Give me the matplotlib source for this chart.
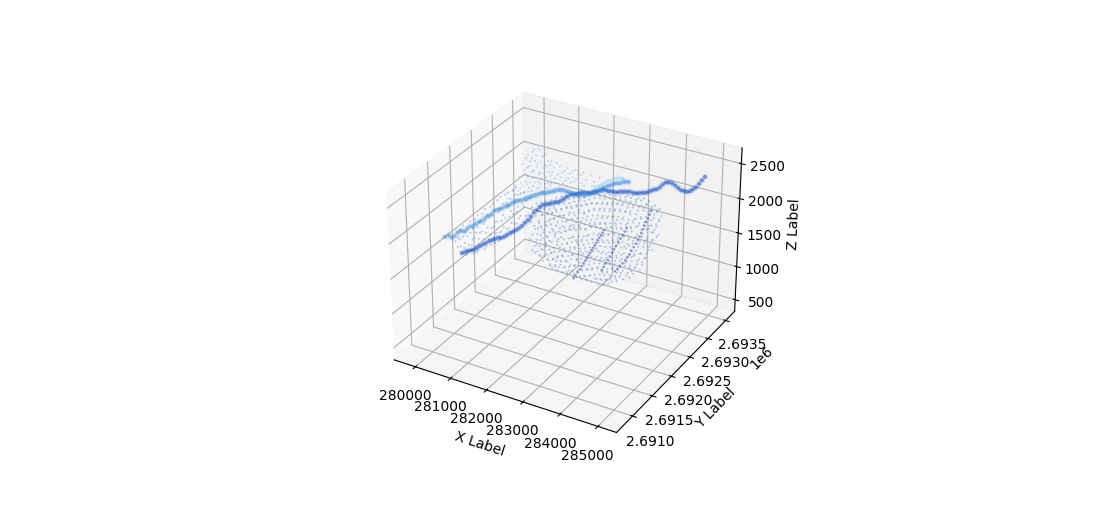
import matplotlib
matplotlib.use("Agg")
import matplotlib.pyplot as plt

x_ticks = [280000, 281000, 282000, 283000, 284000, 285000]
y_ticks = [2691000, 2691500, 2692000, 2692500, 2693000, 2693500]
z_ticks = [500, 1000, 1500, 2000, 2500]

# upper road
road_a_x = [279940, 280060, 280140, 280230, 280320, 280400, 280490, 280570, 280660, 280750,
            280580, 280670, 280750, 280840, 280920, 281010, 281090, 281180, 281260, 281340,
            281190, 281270, 281350, 281440, 281520, 281600, 281690, 281770, 281850, 281930,
            281780, 281870, 281950, 282030, 282110, 282190, 282280, 282360, 282440, 282520,
            282380, 282460, 282540, 282620, 282700, 282780, 282870, 282950, 283030, 283110,
            282970, 283050, 283130, 283210, 283290, 283370, 283450, 283530, 283610, 283690,
            283560, 283640]
road_a_y = [2691400] * 10 + [2691600] * 10 + [2691800] * 10 + [2692000] * 10 + [2692200] * 10 + [2692400] * 10 + [2692600] * 2
road_a_z = [1790, 1830, 1810, 1850, 1910, 1950, 1950, 1995, 2045, 2065,
            1975, 2015, 2045, 2095, 2135, 2170, 2230, 2260, 2280, 2310,
            2220, 2240, 2280, 2310, 2340, 2360, 2380, 2415, 2435, 2465,
            2360, 2390, 2415, 2425, 2445, 2465, 2485, 2515, 2525, 2535,
            2405, 2405, 2405, 2395, 2395, 2405, 2415, 2445, 2465, 2495,
            2390, 2405, 2445, 2485, 2515, 2535, 2565, 2585, 2595, 2625,
            2515, 2525]

# lower road
road_b_x = [280160, 280250, 280330, 280420, 280510, 280590, 280680, 280770, 280850, 280940,
            280780, 280860, 280950, 281030, 281120, 281200, 281290, 281370, 281450, 281540,
            281390, 281470, 281560, 281640, 281720, 281810, 281890, 281970, 282060, 282140,
            281990, 282080, 282160, 282240, 282320, 282400, 282490, 282570, 282650, 282730,
            282590, 282670, 282760, 282840, 282920, 283000, 283080, 283160, 283240, 283320,
            283190, 283270, 283350, 283430, 283510, 283590, 283670, 283760, 283840, 283910,
            283790, 283870, 283950, 284030, 284110, 284190, 284270, 284340, 284420, 284500,
            284390, 284470, 284550, 284630, 284710, 284790, 284870, 284940, 285020, 285100,
            284980, 285060]
road_b_y = [2691600] * 10 + [2691800] * 10 + [2692000] * 10 + [2692200] * 10 + [2692400] * 10 + [2692600] * 10 + [2692800] * 10 + [2693000] * 10 + [2693200] * 2
road_b_z = [1490, 1520, 1550, 1570, 1590, 1630, 1670, 1710, 1740, 1780,
            1670, 1700, 1730, 1740, 1770, 1810, 1850, 1880, 1915, 1955,
            1870, 1925, 1975, 2035, 2105, 2155, 2210, 2250, 2270, 2290,
            2180, 2210, 2220, 2250, 2290, 2330, 2370, 2390, 2405, 2425,
            2320, 2330, 2340, 2350, 2380, 2395, 2425, 2445, 2445, 2445,
            2330, 2330, 2340, 2360, 2370, 2380, 2390, 2390, 2395, 2405,
            2300, 2310, 2330, 2360, 2390, 2405, 2445, 2495, 2535, 2545,
            2425, 2405, 2380, 2360, 2360, 2360, 2380, 2415, 2455, 2515,
            2455, 2515]

# pale strand above the upper road
pale_x = [282970, 283050, 283130, 283210, 283290, 283370, 283450, 283530, 283610, 283690]
pale_y = [2692400] * 10
pale_z = [2455, 2475, 2515, 2555, 2585, 2605, 2635, 2655, 2665, 2675]

# points on the slope under the roads
slope_x = [281600, 281720, 281650, 281590, 281700, 281640,
           281770, 281860, 281740, 281830, 281800, 281880, 281760, 281840, 281790, 281870,
           281900, 281980, 281920, 282000, 281880, 281960, 281930, 282010, 281890, 281970, 281940,
           282030, 282120, 282060, 282100, 282040, 282130, 282070, 282020, 282110, 282050, 282090, 282130,
           282170, 282250, 282190, 282240, 282160, 282220, 282260, 282180, 282230, 282150, 282210, 282270, 282190,
           282310, 282380, 282300, 282370, 282340, 282400, 282290, 282360, 282320, 282390, 282350, 282300, 282380, 282330,
           282450, 282520, 282440, 282500, 282470, 282530, 282430, 282510, 282460, 282540, 282480, 282430, 282500, 282460,
           282580, 282660, 282590, 282650, 282610, 282670, 282570, 282640, 282600, 282680, 282630, 282570, 282650, 282610,
           282720, 282790, 282710, 282780, 282740, 282800, 282700, 282770, 282730, 282810, 282760, 282710, 282790, 282740, 282780,
           282860, 282930, 282850, 282920, 282880, 282940, 282840, 282910, 282870, 282950, 282900, 282850, 282930, 282880, 282860,
           282990, 283070, 282980, 283060, 283020, 283080, 282970, 283050, 283000, 283090, 283030, 282980, 283060, 283010, 283070, 282990,
           283130, 283200, 283120, 283190, 283150, 283220, 283110, 283180, 283140, 283230, 283170, 283120, 283200, 283150, 283210, 283130,
           283270, 283340, 283260, 283330, 283290, 283350, 283250, 283320, 283280, 283370, 283310, 283260, 283340, 283290, 283350, 283270,
           283400, 283480, 283390, 283470, 283430, 283490, 283380, 283460, 283410, 283500, 283450, 283400, 283480, 283430, 283490, 283410, 283460,
           283540, 283610, 283530, 283600, 283560, 283620, 283520, 283590, 283550, 283640, 283580, 283530, 283610, 283560, 283620, 283540, 283590,
           283680, 283750, 283670, 283740, 283700, 283760, 283660, 283730, 283690, 283770, 283720, 283670, 283750, 283700, 283760, 283680, 283730,
           283810, 283890, 283800, 283880, 283840, 283900, 283790, 283870, 283820, 283910, 283860, 283800, 283890, 283830, 283900, 283820,
           283950, 284020, 283940, 284010, 283970, 284030, 283930, 284000, 283960, 284050, 283990, 283940, 284020, 283970, 284030, 283950,
           284080, 284160, 284070, 284150, 284100, 284170, 284060, 284140, 284090, 284180, 284130, 284080, 284160, 284110, 284120,
           284220, 284290, 284210, 284280, 284240, 284300, 284200, 284270, 284230, 284310, 284260, 284210, 284290, 284240, 284280,
           284350, 284430, 284340, 284420, 284380, 284440, 284330, 284410, 284360, 284450, 284400, 284340, 284420, 284370,
           284490, 284570, 284480, 284560, 284520, 284580, 284470, 284550, 284500, 284590, 284540, 284480, 284560,
           284630, 284700, 284620, 284690, 284650, 284710, 284610, 284680, 284640, 284720, 284670, 284620,
           284770, 284840, 284760, 284830, 284790, 284850, 284750, 284820, 284780,
           284910, 284970, 284900, 284960, 284920, 284980, 284890,
           285040, 285090, 285030,
           279470, 279530, 279440, 279510,
           279680, 279740, 279660, 279720, 279690, 279760,
           279890, 279960, 279880, 279940, 279910, 279970,
           280110, 280170, 280090, 280160, 280120, 280190, 280100,
           280320, 280390, 280310, 280380, 280340, 280400, 280330,
           280540, 280610, 280530, 280600, 280560, 280620, 280550, 280590,
           280760, 280830, 280750, 280820, 280780, 280840, 280770, 280810, 280740,
           280980, 281040, 280970, 281050, 281000, 281060, 280990, 281030,
           281200, 281260, 281190, 281250, 281220, 281280, 281210, 281240,
           281420, 281480, 281410, 281470, 281440,
           281580, 281640, 281590,
           281700, 281790, 281760, 281720,
           281850, 281920, 281830, 281900, 281870, 281930, 281840,
           281990, 282060, 282010, 281970, 282040, 282000, 282050,
           282120, 282200, 282140, 282190, 282110, 282170, 282210, 282130,
           282260, 282310, 282240, 282300, 282270, 282330, 282250, 282320, 282280,
           282390, 282450, 282410, 282470, 282380, 282440, 282400, 282460, 282420,
           282530, 282590, 282510, 282570, 282540, 282600, 282520, 282580, 282550, 282590,
           282660, 282730, 282670, 282720, 282650, 282710, 282680, 282740, 282690, 282660,
           282790, 282860, 282810, 282850, 282780, 282840, 282800, 282870, 282820, 282790,
           282930, 282990, 282920, 282980, 282950, 283010, 282910, 282970, 282940, 283000, 282960,
           283070, 283130, 283060, 283120, 283090, 283150, 283050, 283110, 283080, 283140, 283100,
           283200, 283270, 283190, 283250, 283220, 283290, 283180, 283260, 283210, 283280, 283230,
           283330, 283410, 283320, 283400, 283350, 283420, 283310, 283390, 283340, 283430, 283370,
           283470, 283550, 283480, 283540, 283490, 283560, 283460, 283530, 283500, 283570, 283510,
           283610, 283680, 283600, 283670, 283630, 283700, 283590, 283660, 283620, 283690, 283640,
           283740, 283820, 283750, 283810, 283770, 283830, 283730, 283800, 283760, 283840, 283790,
           283890, 283950, 283880, 283940, 283910, 283970, 283870, 283930, 283900, 283960, 283920,
           284010, 284090, 284020, 284080, 284040, 284100, 284000, 284070, 284030, 284060,
           284150, 284230, 284160, 284220, 284180, 284240, 284140, 284210, 284170, 284200,
           284290, 284360, 284280, 284350, 284310, 284370, 284270, 284340, 284300, 284330,
           284420, 284500, 284430, 284490, 284450, 284510, 284410, 284480, 284440,
           284560, 284640, 284570, 284630, 284590, 284650, 284550, 284620,
           284700, 284770, 284690, 284760, 284720, 284780, 284710,
           284830, 284900, 284840, 284890, 284860, 284880,
           284980, 285040, 284970, 285020,
           279590, 279570, 279600,
           279810, 279790, 279830, 279800,
           280020, 280050, 280000, 280030, 280060,
           280240, 280270, 280220, 280260, 280280,
           280470, 280440, 280490, 280460, 280480,
           280680, 280700, 280670, 280710, 280690,
           280900, 280930, 280890, 280920, 280940,
           281120, 281140, 281110, 281150, 281130,
           281330, 281360, 281320, 281350,
           281520, 281540]
slope_z = [1940, 1860, 1770, 1690, 1610, 1540,
           2230, 2130, 2050, 1960, 1880, 1790, 1710, 1630, 1550, 1480,
           2260, 2180, 2090, 2000, 1920, 1840, 1760, 1680, 1600, 1510, 1430,
           2290, 2200, 2120, 2030, 1950, 1870, 1790, 1700, 1620, 1540, 1460, 1390,
           2330, 2240, 2160, 2080, 1990, 1910, 1830, 1740, 1660, 1580, 1500, 1420, 1370,
           2390, 2310, 2220, 2140, 2050, 1970, 1890, 1810, 1720, 1640, 1560, 1480, 1410, 1360,
           2420, 2330, 2250, 2160, 2080, 2000, 1910, 1830, 1750, 1660, 1580, 1500, 1420, 1350,
           2450, 2360, 2280, 2200, 2110, 2030, 1950, 1860, 1780, 1700, 1610, 1530, 1450, 1340,
           2490, 2400, 2320, 2240, 2150, 2070, 1990, 1900, 1820, 1740, 1650, 1570, 1490, 1410, 1330,
           2510, 2430, 2340, 2260, 2180, 2090, 2010, 1930, 1840, 1760, 1680, 1590, 1510, 1430, 1330,
           2540, 2450, 2370, 2290, 2200, 2120, 2040, 1950, 1870, 1790, 1700, 1620, 1540, 1460, 1390, 1320,
           2580, 2490, 2410, 2320, 2240, 2160, 2070, 1990, 1910, 1820, 1740, 1660, 1570, 1490, 1410, 1330,
           2610, 2530, 2440, 2360, 2280, 2190, 2110, 2030, 1940, 1860, 1780, 1690, 1610, 1530, 1450, 1330,
           2630, 2550, 2460, 2380, 2300, 2210, 2130, 2050, 1960, 1880, 1800, 1710, 1630, 1550, 1470, 1390, 1320,
           2640, 2560, 2470, 2390, 2310, 2220, 2140, 2060, 1970, 1890, 1810, 1720, 1640, 1560, 1480, 1400, 1340,
           2660, 2580, 2490, 2410, 2330, 2240, 2160, 2080, 1990, 1910, 1830, 1740, 1660, 1580, 1500, 1430, 1380,
           2680, 2600, 2510, 2430, 2350, 2260, 2180, 2100, 2010, 1930, 1850, 1760, 1680, 1600, 1510, 1420,
           2690, 2610, 2530, 2440, 2360, 2280, 2190, 2110, 2030, 1940, 1860, 1780, 1690, 1610, 1530, 1450,
           2700, 2620, 2530, 2450, 2370, 2280, 2200, 2120, 2030, 1950, 1870, 1780, 1700, 1620, 1500,
           2690, 2610, 2520, 2440, 2360, 2270, 2190, 2110, 2020, 1940, 1860, 1770, 1690, 1610, 1550,
           2710, 2630, 2540, 2460, 2380, 2290, 2210, 2130, 2040, 1960, 1880, 1790, 1710, 1620,
           2690, 2600, 2520, 2440, 2350, 2270, 2190, 2100, 2020, 1940, 1850, 1770, 1700,
           2710, 2630, 2540, 2460, 2380, 2290, 2210, 2130, 2040, 1960, 1880, 1820,
           2690, 2600, 2520, 2440, 2350, 2270, 2190, 2100, 2020,
           2650, 2570, 2480, 2400, 2320, 2230, 2180,
           2620, 2530, 2450,
           1480, 1410, 1340, 1270,
           1610, 1520, 1440, 1360, 1280, 1190,
           1700, 1610, 1530, 1440, 1350, 1240,
           1820, 1730, 1650, 1570, 1480, 1390, 1310,
           1940, 1860, 1770, 1680, 1600, 1510, 1400,
           2050, 1970, 1880, 1800, 1720, 1640, 1560, 1490,
           2180, 2090, 2010, 1930, 1840, 1760, 1680, 1600, 1570,
           2270, 2190, 2100, 2020, 1930, 1850, 1770, 1680,
           2370, 2280, 2200, 2110, 2030, 1950, 1860, 1770,
           2330, 2230, 2140, 2010, 1890,
           2280, 2160, 1970,
           1900, 1795, 1640, 1520,
           2190, 2090, 1985, 1905, 1720, 1590, 1500,
           2210, 2140, 1960, 1880, 1810, 1650, 1470,
           2250, 2150, 2060, 1930, 1745, 1580, 1490, 1410,
           2280, 2195, 2085, 1990, 1860, 1770, 1610, 1540, 1400,
           2350, 2240, 2150, 2010, 1920, 1850, 1700, 1590, 1450,
           2370, 2300, 2170, 2090, 1950, 1780, 1690, 1520, 1440, 1370,
           2420, 2300, 2230, 2060, 1990, 1880, 1740, 1640, 1480, 1400,
           2450, 2360, 2210, 2120, 2030, 1860, 1760, 1590, 1500, 1380,
           2470, 2380, 2300, 2150, 2060, 1900, 1810, 1720, 1560, 1470, 1360,
           2500, 2410, 2270, 2190, 2050, 1970, 1830, 1750, 1600, 1490, 1380,
           2540, 2450, 2340, 2210, 2120, 1950, 1870, 1790, 1620, 1510, 1420,
           2570, 2470, 2380, 2250, 2160, 2020, 1900, 1820, 1660, 1570, 1400,
           2590, 2500, 2400, 2280, 2190, 2030, 1930, 1780, 1680, 1520, 1410,
           2610, 2510, 2420, 2300, 2210, 2070, 1950, 1790, 1700, 1540, 1420,
           2630, 2540, 2440, 2330, 2190, 2120, 1960, 1880, 1700, 1620, 1460,
           2640, 2550, 2450, 2310, 2230, 2070, 1990, 1810, 1730, 1570, 1480,
           2650, 2560, 2470, 2340, 2220, 2100, 1990, 1840, 1750, 1580,
           2660, 2560, 2470, 2310, 2230, 2080, 1970, 1820, 1740, 1570,
           2670, 2570, 2480, 2340, 2250, 2080, 2000, 1850, 1720, 1650,
           2660, 2570, 2400, 2310, 2150, 2060, 1900, 1820, 1720,
           2670, 2580, 2420, 2340, 2170, 2090, 1930, 1780,
           2640, 2560, 2400, 2310, 2150, 2060, 1900,
           2620, 2530, 2370, 2280, 2160, 2030,
           2600, 2480, 2370, 2260,
           1530, 1390, 1290,
           1600, 1470, 1350, 1240,
           1750, 1560, 1470, 1330, 1270,
           1860, 1720, 1600, 1500, 1350,
           1990, 1840, 1690, 1590, 1450,
           2120, 1950, 1810, 1660, 1530,
           2230, 2050, 1890, 1740, 1640,
           2320, 2160, 1980, 1850, 1730,
           2310, 2170, 1990, 1830,
           2240, 2040]
slope_y = [2692026] * len(slope_x)

# points on the far ridge above the roads
ridge_x = [279640, 279600, 279680,
           279900, 279960, 279880, 279940,
           280090, 280150, 280110, 280170, 280080, 280130, 280160,
           280260, 280320, 280280, 280340, 280250, 280300, 280270, 280330,
           280430, 280490, 280450, 280510, 280420, 280470, 280440, 280500, 280460,
           280600, 280660, 280620, 280680, 280590, 280640, 280610, 280670,
           280770, 280830, 280790, 280850, 280760, 280810, 280780,
           280930, 281000, 280950, 281020, 280920, 280980,
           281160, 281230, 281180, 281250, 281150,
           281380, 281450, 281400, 281470, 281370,
           281610, 281680, 281630, 281700,
           281830, 281900, 281850,
           282060, 282130, 282080,
           282290, 282350,
           279780, 279830, 279790,
           280000, 280040, 280020, 280050,
           280200, 280230, 280190, 280220, 280240,
           280380, 280360, 280400, 280370, 280390, 280350,
           280550, 280530, 280570, 280540, 280560,
           280720, 280740, 280700, 280730,
           280880, 280900, 280870,
           281080, 281110, 281060,
           281300, 281320,
           281540, 281560,
           281760, 281780]
ridge_z = [1470, 1410, 1360,
           1700, 1630, 1560, 1490,
           2040, 1960, 1880, 1800, 1720, 1640, 1560,
           2200, 2120, 2040, 1960, 1880, 1800, 1720, 1620,
           2300, 2220, 2140, 2060, 1980, 1900, 1820, 1740, 1650,
           2310, 2230, 2150, 2070, 1990, 1910, 1830, 1720,
           2280, 2190, 2110, 2030, 1950, 1870, 1780,
           2200, 2120, 2040, 1960, 1880, 1800,
           2160, 2080, 2000, 1920, 1860,
           2160, 2090, 2020, 1960, 1900,
           2170, 2110, 2040, 1940,
           2160, 2060, 1970,
           2150, 2070, 2000,
           2150, 2040,
           1610, 1540, 1470,
           1840, 1760, 1680, 1590,
           2150, 2010, 1910, 1770, 1660,
           2260, 2170, 2000, 1870, 1760, 1680,
           2340, 2110, 1960, 1850, 1760,
           2250, 2120, 2000, 1850,
           2140, 1990, 1850,
           2190, 2030, 1900,
           2120, 1970,
           2140, 1990,
           2120, 2000]
ridge_y = [2693130] * len(ridge_x)

# dark streaks across the slope
streak_x = [284824, 284783, 284742, 284701, 284660, 284619, 284578, 284538, 284497, 284442, 284388, 284334, 284279, 284225, 284170, 284100, 284033, 283965, 283897,
            283597, 283556, 283516, 283475, 283434, 283393, 283352, 283311, 283270, 283230, 283189, 283148, 283107, 283052, 282998, 282944, 282890, 282835, 282780,
            284197, 284142, 284088, 284033, 283979, 283924, 283870, 283815, 283761, 283706, 283652, 283597, 283543]
streak_z = [2563, 2506, 2450, 2394, 2338, 2282, 2226, 2170, 2113, 2055, 1997, 1938, 1880, 1830, 1779, 1725, 1671, 1625, 1580,
            2120, 2078, 2036, 1994, 1953, 1910, 1868, 1825, 1783, 1742, 1700, 1658, 1617, 1566, 1515, 1463, 1412, 1360, 1309,
            2240, 2181, 2123, 2065, 2007, 1948, 1890, 1831, 1773, 1714, 1656, 1598, 1540]
streak_y = [2692026] * len(streak_x)

fig = plt.figure(figsize=(10.97, 5.14), dpi=100)
ax = fig.add_subplot(projection="3d")

ax.scatter(slope_x, slope_y, slope_z, s=2.5, c="#3a78d0", alpha=0.35, linewidths=0)
ax.scatter(ridge_x, ridge_y, ridge_z, s=2.5, c="#6aa5e5", alpha=0.35, linewidths=0)
ax.scatter(streak_x, streak_y, streak_z, s=3.5, c="#1c3f9e", alpha=0.5, linewidths=0)
ax.scatter(pale_x, pale_y, pale_z, s=6, c="#7fc8f2", alpha=0.5, linewidths=0)
# wide faint pass and narrow pass give the roads a soft edge
ax.scatter(road_a_x, road_a_y, road_a_z, s=24, c="#2a84e0", alpha=0.1, linewidths=0)
ax.scatter(road_b_x, road_b_y, road_b_z, s=24, c="#1450c8", alpha=0.1, linewidths=0)
ax.scatter(road_a_x, road_a_y, road_a_z, s=8, c="#2a84e0", alpha=0.45, linewidths=0)
ax.scatter(road_b_x, road_b_y, road_b_z, s=8, c="#1450c8", alpha=0.55, linewidths=0)

ax.set_xlim(279390, 285487)
ax.set_ylim(2690605, 2693762)
ax.set_zlim(324, 2723)
ax.set_xticks(x_ticks)
ax.set_yticks(y_ticks)
ax.set_zticks(z_ticks)
ax.set_xlabel("X Label")
ax.set_ylabel("Y Label")
ax.set_zlabel("Z Label")

fig.savefig("out.png", dpi=100)
